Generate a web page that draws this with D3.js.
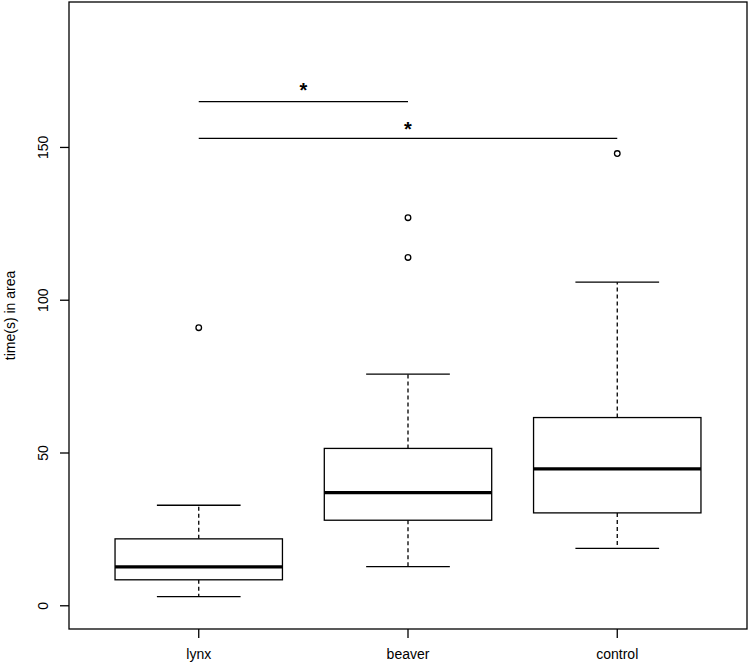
<!DOCTYPE html>
<html>
<head>
<meta charset="utf-8">
<script src="https://cdn.jsdelivr.net/npm/d3@7/dist/d3.min.js"></script>
<style>
  html, body { margin: 0; padding: 0; background: #fff; }
  svg { display: block; font-family: "Liberation Sans", Arial, sans-serif; }
</style>
</head>
<body>
<svg id="chart" width="750" height="666"></svg>
<script>
// ---- data ----
const categories = ["lynx", "beaver", "control"];
const lowerWhisker = [3, 12.8, 18.8];
const q1 = [8.5, 28, 30.4];
const median = [12.7, 37, 44.8];
const q3 = [21.9, 51.5, 61.6];
const upperWhisker = [32.9, 75.8, 105.9];
const outlierGroup = ["lynx", "beaver", "beaver", "control"];
const outlierValue = [91, 114, 127, 148];
const yTicks = [0, 50, 100, 150];
const yLabel = "time(s) in area";
// significance brackets: from group, to group, height; star position
const sigFrom = ["lynx", "lynx"];
const sigTo = ["beaver", "control"];
const sigY = [165, 153];
const starX = [1.5, 2];
const starY = [170, 157.5];
const starText = ["*", "*"];

// ---- layout ----
const mLeft = 69, mRight = 747, mTop = 2, mBottom = 629;
const svg = d3.select("#chart");

const x = d3.scaleLinear().domain([0.38, 3.62]).range([mLeft, mRight]);
const y = d3.scaleLinear().domain([-7.6, 197.6]).range([mBottom, mTop]);
const pos = c => x(categories.indexOf(c) + 1);

const boxHalf = (x(1.4) - x(1));
const capHalf = (x(1.2) - x(1));

const g = svg.append("g");

categories.forEach((c, i) => {
  const cx = pos(c);
  // whiskers (dashed)
  g.append("line").attr("x1", cx).attr("x2", cx)
    .attr("y1", y(q3[i])).attr("y2", y(upperWhisker[i]))
    .attr("stroke", "#000").attr("stroke-width", 1.3).attr("stroke-dasharray", "4,3");
  g.append("line").attr("x1", cx).attr("x2", cx)
    .attr("y1", y(q1[i])).attr("y2", y(lowerWhisker[i]))
    .attr("stroke", "#000").attr("stroke-width", 1.3).attr("stroke-dasharray", "4,3");
  // caps
  [upperWhisker[i], lowerWhisker[i]].forEach(v => {
    g.append("line").attr("x1", cx - capHalf).attr("x2", cx + capHalf)
      .attr("y1", y(v)).attr("y2", y(v))
      .attr("stroke", "#000").attr("stroke-width", 1.3);
  });
  // box
  g.append("rect").attr("x", cx - boxHalf).attr("width", 2 * boxHalf)
    .attr("y", y(q3[i])).attr("height", y(q1[i]) - y(q3[i]))
    .attr("fill", "#fff").attr("stroke", "#000").attr("stroke-width", 1.3);
  // median
  g.append("line").attr("x1", cx - boxHalf).attr("x2", cx + boxHalf)
    .attr("y1", y(median[i])).attr("y2", y(median[i]))
    .attr("stroke", "#000").attr("stroke-width", 3.2);
});

// outliers
g.selectAll("circle.out").data(outlierValue).enter().append("circle")
  .attr("class", "out")
  .attr("cx", (d, i) => pos(outlierGroup[i]))
  .attr("cy", d => y(d))
  .attr("r", 2.8).attr("fill", "none").attr("stroke", "#000").attr("stroke-width", 1.3);

// significance brackets
sigY.forEach((v, i) => {
  g.append("line").attr("x1", pos(sigFrom[i])).attr("x2", pos(sigTo[i]))
    .attr("y1", y(v)).attr("y2", y(v))
    .attr("stroke", "#000").attr("stroke-width", 1.3);
  g.append("text").attr("x", x(starX[i])).attr("y", y(starY[i]) + 11)
    .attr("text-anchor", "middle").attr("font-size", 20).attr("font-weight", "bold")
    .text(starText[i]);
});

// frame
svg.append("rect").attr("x", mLeft).attr("y", mTop)
  .attr("width", mRight - mLeft).attr("height", mBottom - mTop)
  .attr("fill", "none").attr("stroke", "#000").attr("stroke-width", 1.3);

// y axis
const yAxis = svg.append("g");
yTicks.forEach(t => {
  yAxis.append("line").attr("x1", mLeft - 9).attr("x2", mLeft)
    .attr("y1", y(t)).attr("y2", y(t)).attr("stroke", "#000").attr("stroke-width", 1.3);
  yAxis.append("text").attr("transform", `translate(48,${y(t)}) rotate(-90)`)
    .attr("text-anchor", "middle").attr("font-size", 14).text(t);
});
// x axis
categories.forEach(c => {
  svg.append("line").attr("x1", pos(c)).attr("x2", pos(c))
    .attr("y1", mBottom).attr("y2", mBottom + 9).attr("stroke", "#000").attr("stroke-width", 1.3);
  svg.append("text").attr("x", pos(c)).attr("y", 659)
    .attr("text-anchor", "middle").attr("font-size", 14).text(c);
});
// y label
svg.append("text").attr("transform", `translate(15,${(mTop + mBottom) / 2}) rotate(-90)`)
  .attr("text-anchor", "middle").attr("font-size", 14).text(yLabel);
</script>
</body>
</html>
